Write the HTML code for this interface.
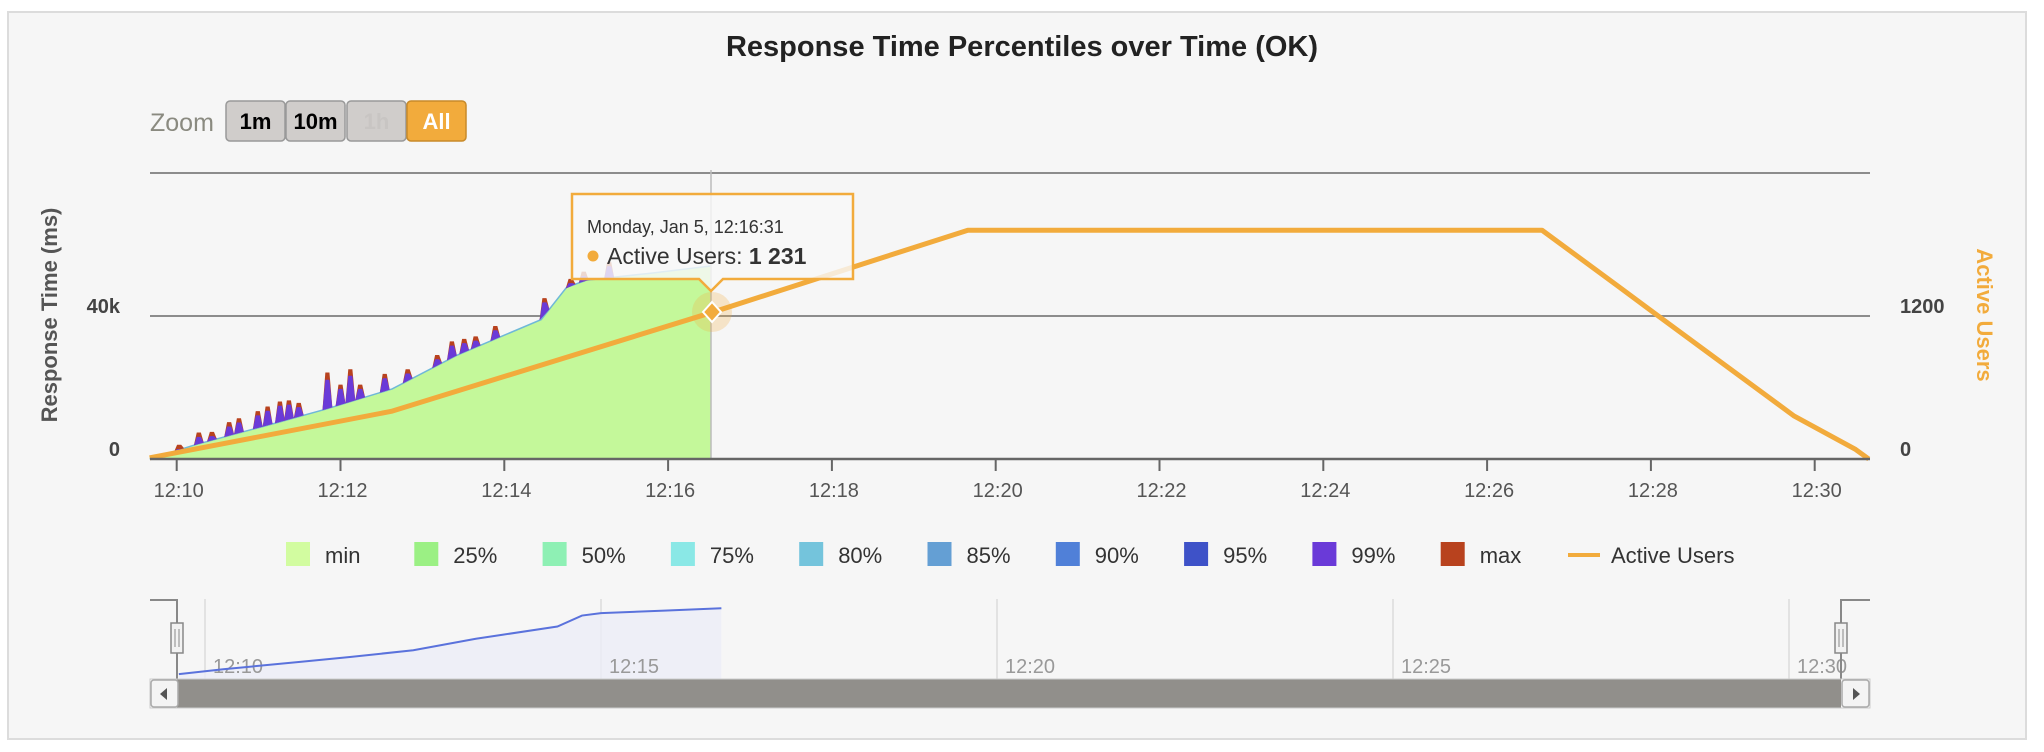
<!DOCTYPE html>
<html><head><meta charset="utf-8"><style>
html,body{margin:0;padding:0;background:#fff;}
svg{display:block;font-family:"Liberation Sans","DejaVu Sans",sans-serif;}
</style></head><body>
<svg id="chart" width="2044" height="752" viewBox="0 0 2044 752" xmlns="http://www.w3.org/2000/svg">
<rect x="8" y="12" width="2018" height="727" fill="#f6f6f6" stroke="#dcdcdc" stroke-width="2"/>
<text x="1022" y="56" text-anchor="middle" font-size="29" font-weight="bold" fill="#222">Response Time Percentiles over Time (OK)</text>
<g>
<text x="150" y="131" font-size="25" fill="#8a8a80">Zoom</text>
<g><rect x="226" y="101" width="59" height="40" rx="4" fill="#d0cdcb" stroke="#999" stroke-width="1.5"/><text x="255.5" y="129" text-anchor="middle" font-size="22" font-weight="bold" fill="#000">1m</text></g>
<g><rect x="286" y="101" width="59" height="40" rx="4" fill="#d0cdcb" stroke="#999" stroke-width="1.5"/><text x="315.5" y="129" text-anchor="middle" font-size="22" font-weight="bold" fill="#000">10m</text></g>
<g><rect x="347" y="101" width="59" height="40" rx="4" fill="#d0cdcb" stroke="#999" stroke-width="1.5"/><text x="376.5" y="129" text-anchor="middle" font-size="22" font-weight="bold" fill="#c8c5c3">1h</text></g>
<g><rect x="407" y="101" width="59" height="40" rx="4" fill="#f2ab3c" stroke="#c88a2a" stroke-width="1.5"/><text x="436.5" y="129" text-anchor="middle" font-size="22" font-weight="bold" fill="#fff">All</text></g>
</g>
<g id="grid"></g>
<g id="plot"></g>
<g id="axes"></g>
<g id="legend"></g>
<g id="nav"></g>
<g id="tip"></g>
</svg>
<script>
// ---- data (minutes since 12:10) ----
const envTimes = [-0.33, 0.23, 1.2, 1.83, 2.63, 3.42, 4.45, 4.76, 5.0, 5.8, 6.52];
const envValues = [0, 4000, 10000, 14000, 19600, 29000, 39000, 48000, 50000, 52000, 54000];
const spikeTimes = [0.03,0.27,0.43,0.64,0.76,0.99,1.11,1.26,1.37,1.49,1.84,2.00,2.12,2.24,2.54,2.82,3.18,3.36,3.51,3.65,3.89,4.49,4.81,4.97,5.28];
const spikeMax = [4000,7400,7600,10300,11400,13400,14700,16100,16400,15700,24200,20800,25100,20800,23800,25100,29100,32900,33600,34300,37200,45000,50400,52400,55100];
const userTimes = [-0.33, 2.62, 6.54, 9.66, 16.67, 17.6, 18.09, 19.75, 20.5, 20.66];
const userValues = [10, 400, 1231, 1920, 1920, 1450, 1200, 360, 80, 0];
const xTickLabels = ["12:10","12:12","12:14","12:16","12:18","12:20","12:22","12:24","12:26","12:28","12:30"];
const leftTickLabels = ["0","40k"];
const rightTickLabels = ["0","1200"];
const navTickLabels = ["12:10","12:15","12:20","12:25","12:30"];
const legendNames = ["min","25%","50%","75%","80%","85%","90%","95%","99%","max"];
const legendColors = ["#d2fca0","#9bf084","#8ef0b4","#8ae8e6","#74c4dc","#649fd4","#5080d8","#3e52c8","#6a3ad8","#b8421e"];

const NS="http://www.w3.org/2000/svg";
function mk(tag, attrs, parent, txt){const e=document.createElementNS(NS,tag);for(const k in attrs)e.setAttribute(k,attrs[k]);if(txt!==undefined)e.textContent=txt;parent.appendChild(e);return e;}
const X0=150,X1=1870,Y0=459,YT=170;
const xs=t=>176.7+t*81.9;
const ys=v=>Y0-v/40000*143;
const yu=u=>Y0-u/1200*143;
const gridG=document.getElementById('grid'),plotG=document.getElementById('plot'),axesG=document.getElementById('axes');
[0,40000,80000].forEach(v=>{const l=mk('line',{x1:X0,x2:X1,y1:ys(v),y2:ys(v),stroke:'#8c8c8c','stroke-width':2},gridG);

});
function envAt(t){for(let i=0;i<envTimes.length-1;i++){if(t>=envTimes[i]&&t<=envTimes[i+1]){const f=(t-envTimes[i])/(envTimes[i+1]-envTimes[i]);return envValues[i]+f*(envValues[i+1]-envValues[i]);}}return envValues[envValues.length-1];}
let d='M'+xs(envTimes[0])+','+Y0;
envTimes.forEach((t,i)=>d+=' L'+xs(t)+','+ys(envValues[i]));
d+=' L'+xs(envTimes[envTimes.length-1])+','+Y0+' Z';
const area=mk('path',{d:d,fill:'#c4f89a'},plotG);


let d2='M'+xs(envTimes[0])+','+ys(envValues[0]);
envTimes.forEach((t,i)=>d2+=' L'+xs(t)+','+ys(envValues[i]));
const topLine=mk('path',{d:d2,fill:'none',stroke:'#6fb8d8','stroke-width':1.5},plotG);


spikeTimes.forEach((t,i)=>{
 const w=0.06, b1=envAt(t-w), b2=envAt(t+w), m=spikeMax[i], p=m-Math.max(1200,(m-envAt(t))*0.2);
 const g=mk('g',{},plotG);
 
 
 mk('path',{d:`M${xs(t-w)},${ys(b1)} L${xs(t-0.025)},${ys(m)} L${xs(t+0.025)},${ys(m)} L${xs(t+w)},${ys(b2)} Z`,fill:'#b8421e'},g);
 mk('path',{d:`M${xs(t-w)},${ys(b1)} L${xs(t-0.025)},${ys(p)} L${xs(t+0.025)},${ys(p)} L${xs(t+w)},${ys(b2)} Z`,fill:'#6a3ad8'},g);
});
const ch=mk('line',{x1:711,x2:711,y1:YT,y2:Y0,stroke:'#bbb','stroke-width':1.5},plotG);


let du='';userTimes.forEach((t,i)=>du+=(i?' L':'M')+xs(t)+','+yu(userValues[i]));
const ul=mk('path',{d:du,fill:'none',stroke:'#f2ab3c','stroke-width':5,'stroke-linejoin':'round'},plotG);


const ax=mk('line',{x1:X0,x2:X1,y1:Y0,y2:Y0,stroke:'#666','stroke-width':2.5},axesG);


xTickLabels.forEach((s,i)=>{const x=xs(i*2);
 mk('line',{x1:x,x2:x,y1:Y0,y2:Y0+12,stroke:'#666','stroke-width':2},axesG);
 const t=mk('text',{x:x+2,y:497,'text-anchor':'middle','font-size':20,fill:'#555'},axesG,s);
 
 });
[0,40000].forEach((v,i)=>{const t=mk('text',{x:120,y:ys(v)-3,'text-anchor':'end','font-size':20,'font-weight':'bold',fill:'#444'},axesG,leftTickLabels[i]);
 
 });
[0,1200].forEach((v,i)=>{const t=mk('text',{x:1900,y:yu(v)-3,'font-size':20,'font-weight':'bold',fill:'#444'},axesG,rightTickLabels[i]);
 
 });
const lt=mk('text',{x:0,y:0,transform:'translate(57,315) rotate(-90)','text-anchor':'middle','font-size':22,'font-weight':'bold',fill:'#555'},axesG,'Response Time (ms)');


const rt=mk('text',{x:0,y:0,transform:'translate(1977,315) rotate(90)','text-anchor':'middle','font-size':22,'font-weight':'bold',fill:'#f2ab3c'},axesG,'Active Users');


const lg=document.getElementById('legend');
legendNames.forEach((n,i)=>{const x=286+i*128.3;const g=mk('g',{},lg);
 
 
 mk('rect',{x:x,y:542,width:24,height:24,fill:legendColors[i]},g);
 mk('text',{x:x+39,y:563,'font-size':22,fill:'#333'},g,n);});
const lgu=mk('g',{},lg);


mk('line',{x1:1568,x2:1600,y1:555,y2:555,stroke:'#f2ab3c','stroke-width':4},lgu);
mk('text',{x:1611,y:563,'font-size':22,fill:'#333'},lgu,'Active Users');
const navG=document.getElementById('nav');
const nx=t=>205+t*79.2, ny=v=>679-(v+4000)*0.00122;
navTickLabels.forEach((s,i)=>{const x=nx(i*5);
 mk('line',{x1:x,x2:x,y1:599,y2:679,stroke:'#e2e2e2','stroke-width':2},navG);});
let na='M'+nx(envTimes[0])+',679';let nl='';
envTimes.forEach((t,i)=>{na+=' L'+nx(t)+','+ny(envValues[i]);nl+=(i?' L':'M')+nx(t)+','+ny(envValues[i]);});
na+=' L'+nx(envTimes[envTimes.length-1])+',679 Z';
const nA=mk('path',{d:na,fill:'#eceef7','fill-opacity':0.8},navG);


navTickLabels.forEach((s,i)=>{const x=nx(i*5);
 const t=mk('text',{x:x+8,y:673,'font-size':20,fill:'#999'},navG,s);
 
 });
const nL=mk('path',{d:nl,fill:'none',stroke:'#5a72dc','stroke-width':2},navG);


mk('path',{d:'M150,600 L177,600 L177,679 M1870,600 L1841,600 L1841,679',fill:'none',stroke:'#888','stroke-width':2},navG);
[177,1841].forEach(x=>{const h=mk('g',{},navG);
 
 
 mk('rect',{x:x-6,y:623,width:12,height:30,fill:'#f2f2f2',stroke:'#888','stroke-width':1.5},h);
 mk('path',{d:`M${x-2},629 V647 M${x+2},629 V647`,stroke:'#888','stroke-width':1},h);});
const sb=mk('rect',{x:177,y:679,width:1664,height:29,fill:'#918f8b'},navG);


mk('rect',{x:150,y:679,width:1720,height:29,fill:'none',stroke:'#ccc','stroke-width':1},navG);
[[150,'M167,688 L160,694 L167,700 Z','scrollbar-left-button'],[1841,'M1853,688 L1860,694 L1853,700 Z','scrollbar-right-button']].forEach(a=>{const g=mk('g',{},navG);
 
 
 mk('rect',{x:a[0]+1,y:680,width:27,height:27,rx:3,fill:'#f4f4f4',stroke:'#aaa','stroke-width':1.5},g);
 mk('path',{d:a[1],fill:'#555'},g);});
const tipG=document.getElementById('tip');


mk('circle',{cx:712,cy:312,r:20,fill:'#f2ab3c',opacity:0.25},tipG);
mk('path',{d:'M712,302 L721,312 L712,322 L703,312 Z',fill:'#f2ab3c',stroke:'#fff','stroke-width':2},tipG);
mk('path',{d:'M572,194 H853 V279 H723 L711,291 L699,279 H572 Z',fill:'#f8f8f8','fill-opacity':0.82,stroke:'#f2ab3c','stroke-width':2.5},tipG);
mk('text',{x:587,y:233,'font-size':18,fill:'#333'},tipG,'Monday, Jan 5, 12:16:31');
mk('circle',{cx:593,cy:256,r:5.5,fill:'#f2ab3c'},tipG);
const t2=mk('text',{x:607,y:264,'font-size':23,fill:'#333'},tipG,'Active Users: ');
mk('tspan',{'font-weight':'bold'},t2,'1 231');
</script>
</body></html>
